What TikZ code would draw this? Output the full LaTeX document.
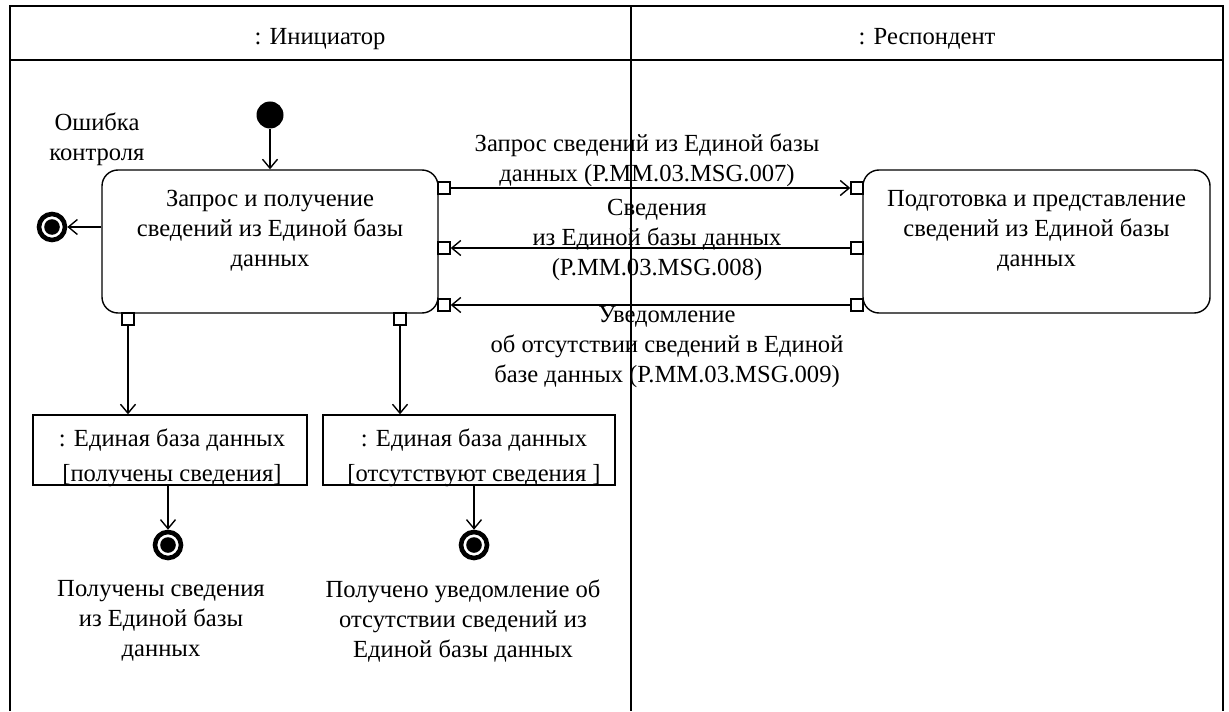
\documentclass[tikz,border=0pt]{standalone}
\usepackage{fontspec}
\setmainfont{Liberation Serif}
\usepackage{tikz}
\usetikzlibrary{arrows.meta, positioning}

\begin{document}
\begin{tikzpicture}[x=0.5pt, y=-0.5pt, >={Straight Barb[length=4.5pt,width=7.5pt]}, line width=0.7pt,
  every node/.style={font=\fontsize{12.3}{15}\selectfont, align=center},
  action/.style={draw, rounded corners=8pt, minimum height=71.5pt, inner sep=0pt},
  objbox/.style={draw, minimum height=35pt, inner sep=0pt},
  portbox/.style={draw, fill=white, minimum size=6pt, inner sep=0pt},
  initial/.style={circle, fill=black, minimum size=13.5pt, inner sep=0pt},
  final/.style={circle, draw, line width=2.3pt, minimum size=13pt, inner sep=0pt,
    path picture={\fill (path picture bounding box.center) circle (3.9pt);}}]
  \useasboundingbox (0,0) rectangle (1229,711);
  % swimlanes
  \draw[line width=0.9pt] (10,711) -- (10,6) -- (1223,6) -- (1223,711);
  \draw[line width=0.9pt] (10,60) -- (1223,60); \draw[line width=0.9pt] (631,6) -- (631,711);
  \node (lanea) at (320,39){: Инициатор}; \node (laneb) at (927,39){: Респондент};
  % actions
  \node[initial] (start) at (270,115){};
  \node[action, minimum width=168pt] (req) at (270,241.5){};
  \node (reqtxt) at ([yshift=5.5pt]req.center){Запрос и получение\\сведений из Единой базы\\данных};
  \node[action, minimum width=173.5pt] (resp) at (1036.5,241.5){};
  \node (resptxt) at ([yshift=5.5pt]resp.center){Подготовка и представление\\сведений из Единой базы\\данных};
  \draw[->] (start) -- (req);
  \node[final] (enderr) at (52,227){}; \node (errtxt) at (97,139){Ошибка\\контроля};
  \draw[->] (req.west |- enderr) -- (enderr);
  % pins
  \node[portbox] (p1) at (444,188){}; \node[portbox] (p2) at (444,248){}; \node[portbox] (p3) at (444,305){};
  \node[portbox] (q1) at (857,188){}; \node[portbox] (q2) at (857,248){}; \node[portbox] (q3) at (857,305){};
  \node[portbox] (p4) at (128,319){}; \node[portbox] (p5) at (400,319){};
  % messages
  \draw[->] (p1) -- (q1); \node (msga) at (647,160){Запрос сведений из Единой базы\\данных (P.MM.03.MSG.007)};
  \draw[->] (q2) -- (p2); \node (msgb) at (657,240){Сведения\\из Единой базы данных\\(P.MM.03.MSG.008)};
  \draw[->] (q3) -- (p3); \node (msgc) at (667,347){Уведомление\\об отсутствии сведений в Единой\\базе данных (P.MM.03.MSG.009)};
  % objects
  \node[objbox, minimum width=137pt] (dba) at (170,450){};
  \node (dbatxt) at (172,457.5){: Единая база данных\\[2.5pt][получены сведения]};
  \node[objbox, minimum width=146pt] (dbb) at (469,450){};
  \node (dbbtxt) at (474,457.5){: Единая база данных\\[2.5pt][отсутствуют сведения ]};
  \draw[->] (p4) -- (p4 |- dba.north); \draw[->] (p5) -- (p5 |- dbb.north);
  \node[final] (enda) at (168,545){}; \node[final] (endb) at (474,545){};
  \draw[->] (enda |- dba.south) -- (enda); \draw[->] (endb |- dbb.south) -- (endb);
  \node (endatxt) at (161,621){Получены сведения\\из Единой базы\\данных};
  \node (endbtxt) at (463,621){Получено уведомление об\\отсутствии сведений из\\Единой базы данных};
\end{tikzpicture}
\end{document}
